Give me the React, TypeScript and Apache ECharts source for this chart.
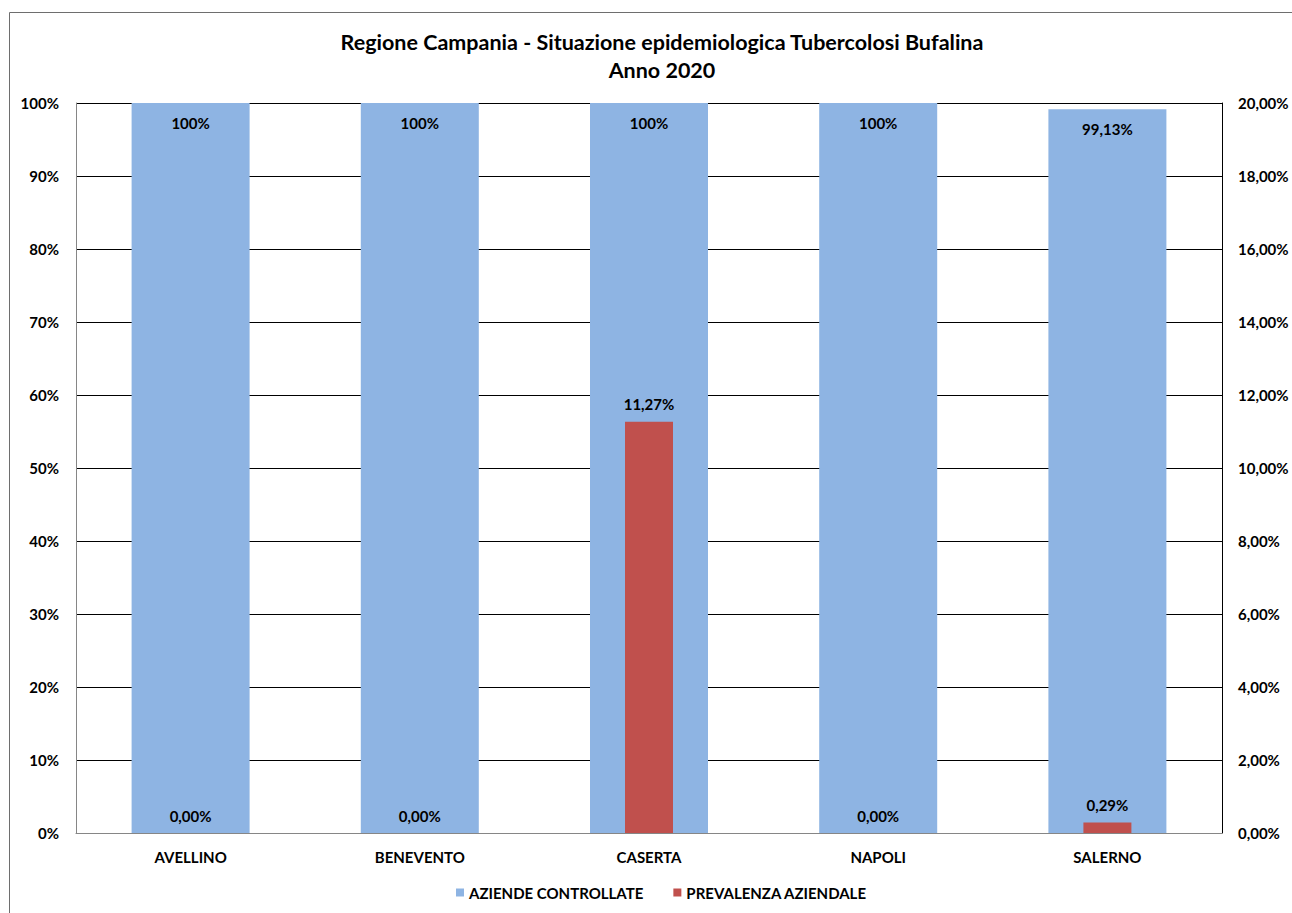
import React, { useEffect, useRef } from "react";
import * as echarts from "echarts";

const categories = ["AVELLINO", "BENEVENTO", "CASERTA", "NAPOLI", "SALERNO"];
const aziendeControllate = [100, 100, 100, 100, 99.13];
const prevalenzaAziendale = [0, 0, 11.27, 0, 0.29];
const leftTicks = [0, 10, 20, 30, 40, 50, 60, 70, 80, 90, 100];
const rightTicks = [0, 2, 4, 6, 8, 10, 12, 14, 16, 18, 20];

const FONT = "Lato";
const FS = 15;

const fmtComma = (v: number) => v.toFixed(2).replace(".", ",") + "%";

export default function App() {
  const ref = useRef<HTMLDivElement>(null);
  useEffect(() => {
    document.body.style.margin = "0";
    const chart = echarts.init(ref.current!, undefined, { renderer: "svg" });
    chart.setOption({
      animation: false,
      backgroundColor: "#ffffff",
      textStyle: { fontFamily: FONT },
      title: {
        text: "Regione Campania - Situazione epidemiologica Tubercolosi Bufalina\nAnno 2020",
        left: 657,
        textAlign: "center",
        top: 23,
        textStyle: {
          fontFamily: FONT,
          fontSize: 21.5,
          fontWeight: "bold",
          color: "#000",
          lineHeight: 28,
        },
      },
      graphic: [
        {
          type: "rect",
          shape: { x: 9.5, y: 12.5, width: 1290, height: 910 },
          style: { fill: "none", stroke: "#6e6e6e", lineWidth: 1 },
          silent: true,
        },
      ],
      legend: {
        bottom: 8,
        left: 451,
        itemWidth: 8,
        itemHeight: 8,
        itemGap: 30,
        icon: "rect",
        textStyle: { fontFamily: FONT, fontSize: FS, fontWeight: "bold", color: "#000" },
        data: ["AZIENDE CONTROLLATE", "PREVALENZA AZIENDALE"],
      },
      grid: { left: 76, right: 70, top: 103, bottom: 80, containLabel: false },
      xAxis: [
        {
          type: "category",
          data: categories,
          axisLine: { show: true, lineStyle: { color: "#868686", width: 1 } },
          axisTick: { show: false },
          axisLabel: {
            fontFamily: FONT,
            fontSize: FS,
            fontWeight: "bold",
            color: "#000",
            margin: 16,
          },
        },
        {
          type: "category",
          data: categories,
          show: false,
        },
      ],
      yAxis: [
        {
          type: "value",
          min: leftTicks[0],
          max: leftTicks[leftTicks.length - 1],
          interval: leftTicks[1] - leftTicks[0],
          axisLine: { show: true, lineStyle: { color: "#868686", width: 1 } },
          axisTick: { show: false },
          splitLine: { show: true, lineStyle: { color: "#000", width: 1 } },
          axisLabel: {
            fontFamily: FONT,
            fontSize: FS,
            fontWeight: "bold",
            color: "#000",
            margin: 17,
            formatter: (v: number) => v + "%",
          },
        },
        {
          type: "value",
          min: rightTicks[0],
          max: rightTicks[rightTicks.length - 1],
          interval: rightTicks[1] - rightTicks[0],
          position: "right",
          axisLine: { show: true, lineStyle: { color: "#000", width: 1 } },
          axisTick: { show: false },
          splitLine: { show: false },
          axisLabel: {
            fontFamily: FONT,
            fontSize: FS,
            fontWeight: "bold",
            color: "#000",
            margin: 16,
            formatter: (v: number) => fmtComma(v),
          },
        },
      ],
      series: [
        {
          name: "AZIENDE CONTROLLATE",
          type: "bar",
          xAxisIndex: 0,
          yAxisIndex: 0,
          data: aziendeControllate,
          barWidth: 118,
          itemStyle: { color: "#8EB4E3" },
          label: {
            show: true,
            position: "insideTop",
            distance: 12,
            fontFamily: FONT,
            fontSize: FS,
            fontWeight: "bold",
            color: "#000",
            formatter: (p: any) =>
              Number.isInteger(p.value) ? p.value + "%" : fmtComma(p.value),
          },
        },
        {
          name: "PREVALENZA AZIENDALE",
          type: "bar",
          xAxisIndex: 1,
          yAxisIndex: 1,
          data: prevalenzaAziendale,
          barWidth: 48,
          itemStyle: { color: "#C0504D" },
          label: {
            show: true,
            position: "top",
            distance: 10,
            fontFamily: FONT,
            fontSize: FS,
            fontWeight: "bold",
            color: "#000",
            formatter: (p: any) => fmtComma(p.value),
          },
        },
      ],
    });
    return () => chart.dispose();
  }, []);
  return <div ref={ref} style={{ width: 1292, height: 913 }} />;
}
